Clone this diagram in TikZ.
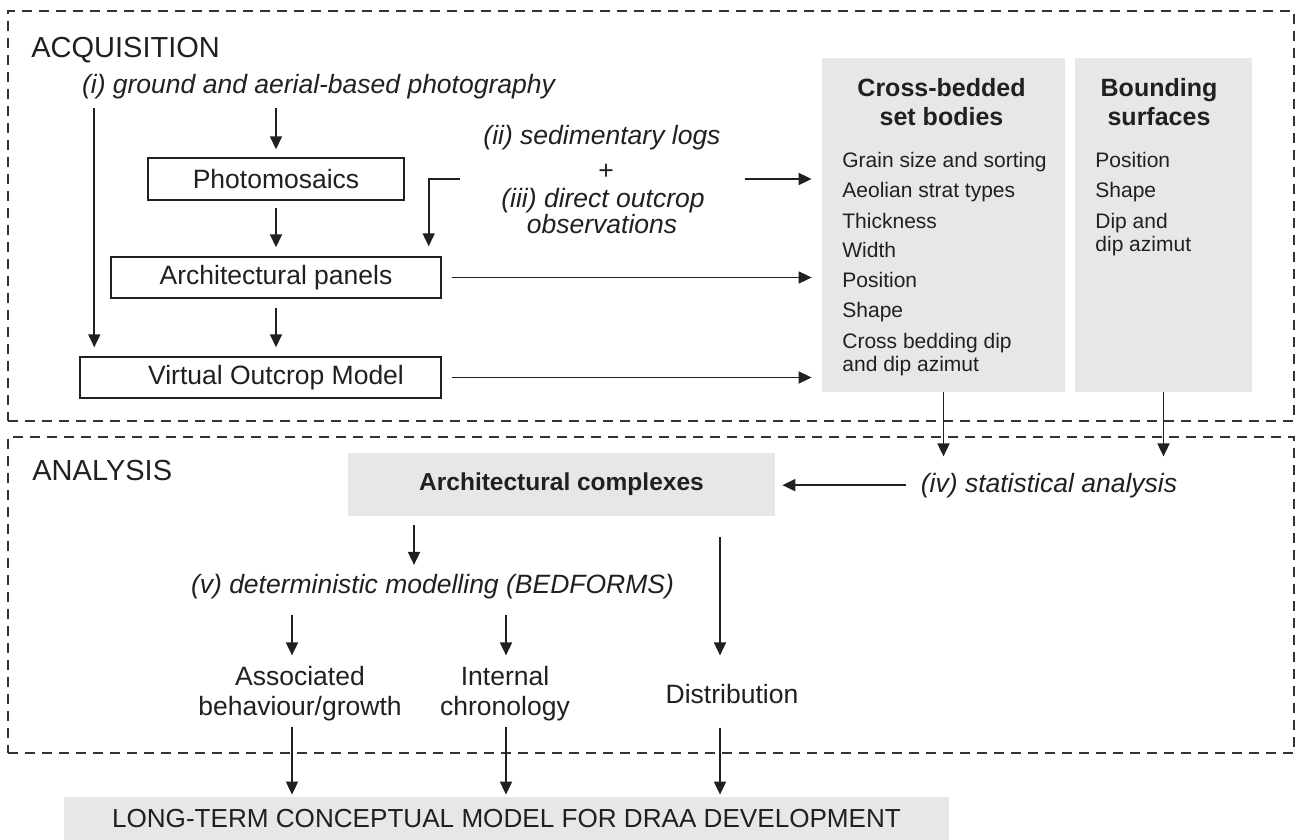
\documentclass[tikz,border=0pt]{standalone}
\usepackage{fontspec}
\setmainfont{Liberation Sans}
\usetikzlibrary{arrows.meta,calc}
\definecolor{ink}{HTML}{231F20}
\definecolor{greyfill}{HTML}{E6E7E8}
\definecolor{dashc}{HTML}{333333}
\begin{document}
\begin{tikzpicture}[x=0.5pt,y=-0.5pt,
  txt/.style={inner sep=0pt,text=ink,font=\fontsize{13.25pt}{15pt}\selectfont},
  ital/.style={inner sep=0pt,text=ink,font=\fontsize{13.25pt}{15pt}\selectfont\itshape},
  listtxt/.style={inner sep=0pt,text=ink,font=\fontsize{10.5pt}{12pt}\selectfont,anchor=base west},
  bhead/.style={inner sep=0pt,text=ink,font=\fontsize{12.5pt}{14pt}\selectfont\bfseries,anchor=base},
  sect/.style={inner sep=0pt,text=ink,font=\fontsize{14.5pt}{16pt}\selectfont,anchor=base west},
  wbox/.style={draw=ink,line width=0.7pt,fill=white,inner sep=0pt,text=ink,font=\fontsize{13.25pt}{15pt}\selectfont},
  gbox/.style={fill=greyfill,draw=none,inner sep=0pt,text=ink},
  frame/.style={draw=dashc,line width=0.6pt,dash pattern=on 5pt off 3.5pt,inner sep=0pt},
  arr/.style={draw=ink,line width=0.9pt,-{Triangle[length=6.5pt,width=6pt]}}
]
\useasboundingbox[fill=white] (0,0) rectangle (1296,840);

% frames
\node[frame,minimum width=643pt,minimum height=205pt] (acqframe) at (651,216) {};
\node[frame,minimum width=643pt,minimum height=158pt] (anaframe) at (651,595) {};

% ACQUISITION
\node[sect] (acqt) at (31,58) {ACQUISITION};
\node[ital,anchor=base] (photog) at (318.5,94) {(i) ground and aerial-based photography};
\node[wbox,minimum width=128pt,minimum height=21pt] (photo) at (276,179) {Photomosaics};
\node[wbox,minimum width=165pt,minimum height=20.5pt] (arch) at (276,277.5) {Architectural panels};
\node[wbox,minimum width=180.5pt,minimum height=20.5pt] (vom) at (260.5,377.5) {};
\node[txt] (vomt) at (276,377.5) {Virtual Outcrop Model};

\node[ital,anchor=base] (sed) at (602,145) {(ii) sedimentary logs};
\node[txt,anchor=base] (plus) at (606,179) {+};
\node[ital,anchor=base] (direct1) at (603,207) {(iii) direct outcrop};
\node[ital,anchor=base] (direct2) at (602,234) {observations};
\coordinate (obsL) at (460,179);
\coordinate (obsR) at (745,179);

% grey boxes
\node[gbox,minimum width=121.5pt,minimum height=167pt] (csb) at (943.5,225) {};
\node[gbox,minimum width=88.5pt,minimum height=167pt] (bs) at (1163.5,225) {};
\node[bhead] (csbt1) at (941.5,97) {Cross-bedded};
\node[bhead] (csbt2) at (941.5,126) {set bodies};
\node[bhead] (bst1) at (1159,97) {Bounding};
\node[bhead] (bst2) at (1159,126) {surfaces};

\node[listtxt] (c1) at (842,168) {Grain size and sorting};
\node[listtxt] (c2) at (842,198) {Aeolian strat types};
\node[listtxt] (c3) at (842,228) {Thickness};
\node[listtxt] (c4) at (842,257) {Width};
\node[listtxt] (c5) at (842,287) {Position};
\node[listtxt] (c6) at (842,317) {Shape};
\node[listtxt] (c7) at (842,348) {Cross bedding dip};
\node[listtxt] (c8) at (842,371) {and dip azimut};

\node[listtxt] (b1) at (1095,168) {Position};
\node[listtxt] (b2) at (1095,198) {Shape};
\node[listtxt] (b3) at (1095,228) {Dip and};
\node[listtxt] (b4) at (1095,251) {dip azimut};

% ANALYSIS
\node[sect] (anat) at (32,480) {ANALYSIS};
\node[gbox,minimum width=213.5pt,minimum height=31.5pt,font=\fontsize{12.25pt}{14pt}\selectfont\bfseries] (ac) at (561.5,484.5) {Architectural complexes};
\node[ital,anchor=base] (stat) at (1049,492) {(iv) statistical analysis};
\node[ital,anchor=base] (det) at (432.5,593) {(v) deterministic modelling (BEDFORMS)};
\node[txt,anchor=base] (assoc1) at (300,685) {Associated};
\node[txt,anchor=base] (assoc2) at (300,715) {behaviour/growth};
\node[txt,anchor=base] (int1) at (505,685) {Internal};
\node[txt,anchor=base] (int2) at (505,715) {chronology};
\node[txt,anchor=base] (dist) at (732,703) {Distribution};

\node[gbox,minimum width=442.5pt,minimum height=21.5pt,font=\fontsize{13.05pt}{15pt}\selectfont] (ltm) at (506.5,818.5) {LONG-TERM CONCEPTUAL MODEL FOR DRAA DEVELOPMENT};

\coordinate (vomin) at ($(vom.north west)+(15,0)$);
\coordinate (xa) at ($(assoc1.north)+(-8,0)$);
\coordinate (xi) at ($(int1.north)+(1,0)$);
\coordinate (xd) at ($(dist.north)+(-12,0)$);

% connectors: acquisition
\draw[arr,shorten <=4.25pt,shorten >=4.5pt] (photog.south -| vomin) -- (vomin);
\draw[arr,shorten <=4.25pt,shorten >=4pt] (photog.south -| photo.north) -- (photo.north);
\draw[arr,shorten <=3.5pt,shorten >=4.5pt] (photo.south) -- (arch.north);
\draw[arr,shorten <=4.5pt,shorten >=4.5pt] (arch.south) -- (arch.south |- vom.north);
\draw[arr] (obsL) -| ($(arch.north east)+(-13,-10)$);
\draw[arr,shorten >=5pt] (obsR) -- (obsR -| csb.west);
\draw[arr,shorten <=5pt,shorten >=5pt] (arch.east) -- (arch.east -| csb.west);
\draw[arr,shorten <=5pt,shorten >=5pt] (vom.east) -- (vom.east -| csb.west);

% connectors: analysis
\draw[arr,shorten >=8pt] (csb.south) -- (csb.south |- stat.north);
\draw[arr,shorten >=8pt] (bs.south) -- (bs.south |- stat.north);
\draw[arr,shorten <=7pt,shorten >=3.5pt] (stat.west) -- (stat.west -| ac.east);
\draw[arr,shorten <=4.5pt,shorten >=4.25pt] ($(ac.south)+(-147.5,0)$) -- ($(det.north)+(-18.5,0)$);
\draw[arr,shorten <=8pt,shorten >=5pt] (det.south -| xa) -- (xa);
\draw[arr,shorten <=8pt,shorten >=5pt] (det.south -| xi) -- (xi);
\draw[arr,shorten <=10.5pt,shorten >=14pt] (ac.south -| xd) -- (xd);
\draw[arr,shorten <=3.2pt,shorten >=1pt] (assoc2.south -| xa) -- (ltm.north -| xa);
\draw[arr,shorten <=3.2pt,shorten >=1pt] (int2.south -| xi) -- (ltm.north -| xi);
\draw[arr,shorten <=12pt,shorten >=1pt] (dist.south -| xd) -- (ltm.north -| xd);
\end{tikzpicture}
\end{document}
